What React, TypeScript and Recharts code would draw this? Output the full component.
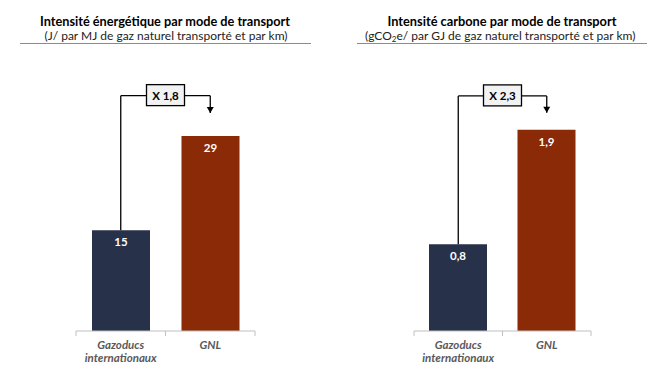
import React from 'react';
import { BarChart, Bar, XAxis, YAxis, Cell, LabelList, ReferenceLine, ReferenceDot } from 'recharts';

const categories = ['Gazoducs internationaux', 'GNL'];
const energyValues = [15, 29];
const carbonValues = [0.82, 1.9];
const energyValueLabels = ['15', '29'];
const carbonValueLabels = ['0,8', '1,9'];
const barColors = ['#28314a', '#8a2a06'];

const energyRatioLabel = 'X 1,8';
const carbonRatioLabel = 'X 2,3';
const energyBracketLevel = 35;
const energyArrowTip = 32.4;
const carbonBracketLevel = 2.22;
const carbonArrowTip = 2.06;
const energyDomainMax = 40;
const carbonDomainMax = 2.54;

const FONT = 'Lato, "DejaVu Sans", sans-serif';

function CategoryTick(props: any) {
  const { x, y, payload, index, visibleTicksCount } = props;
  const off = payload && payload.offset ? payload.offset : 44.5;
  const words = String(payload.value).split(' ');
  const isLast = index === (visibleTicksCount ?? 2) - 1;
  return (
    <g>
      <line x1={x - off} x2={x - off} y1={y} y2={y + 5} stroke="#bfbfbf" strokeWidth={1} />
      {isLast && <line x1={x + off} x2={x + off} y1={y} y2={y + 5} stroke="#bfbfbf" strokeWidth={1} />}
      {words.map((w, i) => (
        <text key={i} x={x} y={y + 18 + i * 13} textAnchor="middle" fontFamily={FONT} fontSize={11.5}
          fontWeight={700} fontStyle="italic" fill="#595959">{w}</text>
      ))}
    </g>
  );
}

const valueLabel = (labels: string[]) => (props: any) => {
  const { x, y, width, index } = props;
  return (
    <text x={x + width / 2} y={y + 16} textAnchor="middle" fill="#ffffff" fontFamily={FONT}
      fontSize={11.5} fontWeight={700}>{labels[index]}</text>
  );
};

const ratioBox = (text: string) => (props: any) => {
  const vb = props.viewBox || {};
  const cx = (vb.x || 0) + (vb.width || 0) / 2;
  const cy = (vb.y || 0) + (vb.height || 0) / 2;
  return (
    <g>
      <rect x={cx - 19} y={cy - 11} width={38} height={21} fill="#f2f2f2" stroke="#000" strokeWidth={1.3} />
      <text x={cx} y={cy + 4} textAnchor="middle" fontFamily={FONT} fontSize={11.5} fontWeight={700} fill="#000">{text}</text>
    </g>
  );
};

const arrowShape = (p: any) => (
  <path d={`M${p.cx - 3.5},${p.cy - 6} L${p.cx + 3.5},${p.cy - 6} L${p.cx},${p.cy} Z`} fill="#000" />
);

function Panel(props: {
  values: number[]; labels: string[]; domainMax: number; level: number; tip: number;
  ratio: string; left: number; marginLeft: number; marginRight: number;
}) {
  const data = categories.map((c, i) => ({ name: c, value: props.values[i] }));
  const c0 = categories[0];
  const c1 = categories[1];
  return (
    <div style={{ position: 'absolute', left: props.left, top: 0 }}>
      <BarChart width={335} height={372} data={data}
        margin={{ top: 62, right: props.marginRight, bottom: 5, left: props.marginLeft }}>
        <XAxis dataKey="name" height={36} axisLine={{ stroke: '#bfbfbf' }} tickLine={false}
          tickSize={0} tickMargin={0} interval={0} tick={<CategoryTick />} />
        <YAxis hide domain={[0, props.domainMax]} />
        <Bar dataKey="value" barSize={58} isAnimationActive={false}>
          {data.map((d, i) => <Cell key={i} fill={barColors[i]} />)}
          <LabelList dataKey="value" content={valueLabel(props.labels)} />
        </Bar>
        <ReferenceLine ifOverflow="visible" stroke="#000" strokeWidth={1.3}
          segment={[{ x: c0, y: props.values[0] }, { x: c0, y: props.level }]} />
        <ReferenceLine ifOverflow="visible" stroke="#000" strokeWidth={1.3}
          segment={[{ x: c0, y: props.level }, { x: c1, y: props.level }]}
          label={ratioBox(props.ratio)} />
        <ReferenceLine ifOverflow="visible" stroke="#000" strokeWidth={1.3}
          segment={[{ x: c1, y: props.level }, { x: c1, y: props.tip }]} />
        <ReferenceDot ifOverflow="visible" x={c1} y={props.tip} r={3} shape={arrowShape} />
      </BarChart>
    </div>
  );
}

export default function App() {
  return (
    <div style={{ position: 'absolute', left: 0, top: 0, width: 670, height: 372, background: '#fff', fontFamily: FONT }}>
      <svg width={670} height={60} style={{ position: 'absolute', left: 0, top: 0 }}>
        <text x={165} y={26} textAnchor="middle" fontFamily={FONT} fontSize={12.5} fontWeight={700} fill="#000"
          textLength={250} lengthAdjust="spacingAndGlyphs">
          Intensité énergétique par mode de transport
        </text>
        <text x={166} y={39.5} textAnchor="middle" fontFamily={FONT} fontSize={11.5} fill="#222"
          textLength={243} lengthAdjust="spacingAndGlyphs">
          (J/ par MJ de gaz naturel transporté et par km)
        </text>
        <line x1={20} x2={311} y1={43.5} y2={43.5} stroke="#8c8c8c" strokeWidth={1} />
        <text x={502} y={26} textAnchor="middle" fontFamily={FONT} fontSize={12.5} fontWeight={700} fill="#000"
          textLength={229} lengthAdjust="spacingAndGlyphs">
          Intensité carbone par mode de transport
        </text>
        <text x={365} y={39.5} textAnchor="start" fontFamily={FONT} fontSize={12} fill="#222">
          (gCO<tspan dy={2} fontSize={8}>2</tspan><tspan dy={-2}>e/ par GJ de gaz naturel transporté et par km)</tspan>
        </text>
        <line x1={357} x2={647} y1={43.5} y2={43.5} stroke="#8c8c8c" strokeWidth={1} />
      </svg>
      <Panel values={energyValues} labels={energyValueLabels} domainMax={energyDomainMax}
        level={energyBracketLevel} tip={energyArrowTip} ratio={energyRatioLabel}
        left={0} marginLeft={76} marginRight={80} />
      <Panel values={carbonValues} labels={carbonValueLabels} domainMax={carbonDomainMax}
        level={carbonBracketLevel} tip={carbonArrowTip} ratio={carbonRatioLabel}
        left={335} marginLeft={79} marginRight={79} />
    </div>
  );
}
